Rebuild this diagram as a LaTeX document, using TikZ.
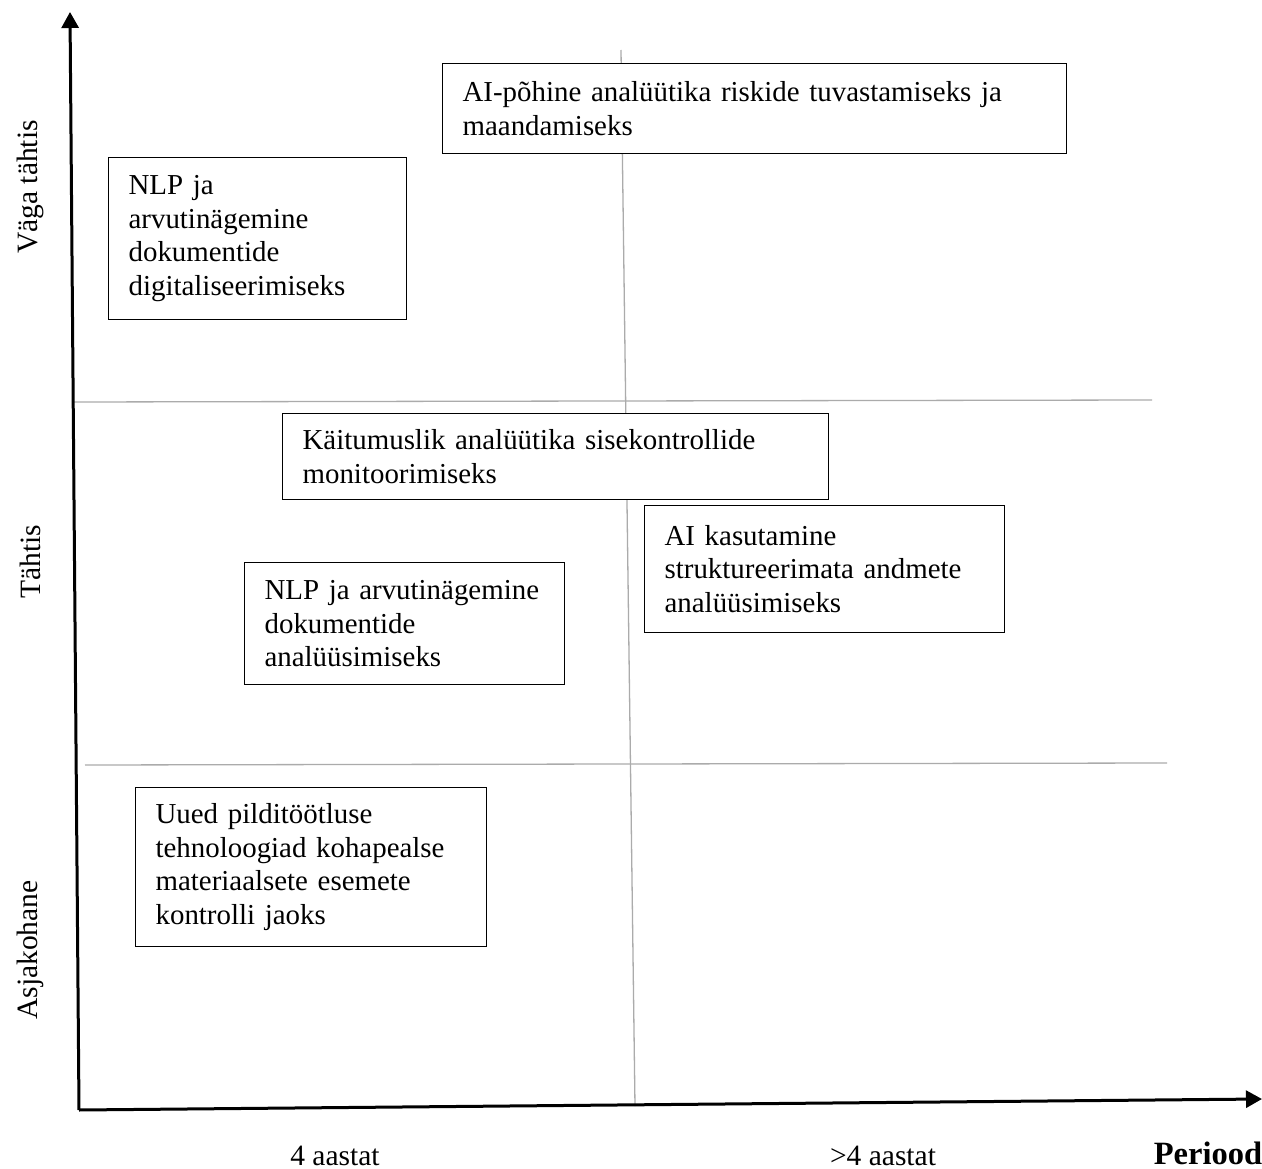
\documentclass[tikz,border=0pt]{standalone}
\usepackage{fontspec}
\setmainfont{Liberation Serif}
\usetikzlibrary{arrows.meta}
\begin{document}
\begin{tikzpicture}[x=1pt,y=-1pt,
  axis/.style={line width=3pt,-{Triangle[length=16pt,width=17pt]}},
  grid/.style={draw=black!33,line width=1.3pt},
  item/.style={draw,fill=white,line width=1.2pt,inner xsep=20pt,inner ysep=0pt,align=left,
    font=\fontsize{28.9}{33.8}\selectfont,anchor=north west},
  axlabel/.style={font=\fontsize{29.5}{34}\selectfont,inner sep=0pt},
]
\useasboundingbox (0,0) rectangle (1262,1169);
% quadrant lines
\coordinate (vt) at (621,50);
\coordinate (vb) at (635,1106);
\coordinate (h1l) at (72,402);
\coordinate (h1r) at (1152,400);
\coordinate (h2l) at (85,765);
\coordinate (h2r) at (1167,763);
\draw[grid] (vt) -- (vb);
\draw[grid] (h1l) -- (h1r);
\draw[grid] (h2l) -- (h2r);
% axes
\coordinate (o) at (79,1110);
\coordinate (ytip) at (70,12);
\coordinate (xtip) at (1262,1099);
\draw[axis] (o) -- (ytip);
\draw[axis] (o) -- (xtip);
% boxes
\node[item,text width=584pt,minimum height=90pt] (b1) at (442,63)
  {AI-põhine analüütika riskide tuvastamiseks ja\\maandamiseks};
\node[item,text width=258pt,minimum height=162pt] (b2) at (108,157)
  {NLP ja\\arvutinägemine\\dokumentide\\digitaliseerimiseks};
\node[item,text width=506pt,minimum height=86pt] (b3) at (282,413)
  {Käitumuslik analüütika sisekontrollide\\monitoorimiseks};
\node[item,text width=320pt,minimum height=127pt] (b4) at (644,505)
  {AI kasutamine\\struktureerimata andmete\\analüüsimiseks};
\node[item,text width=280pt,minimum height=122pt] (b5) at (244,562)
  {NLP ja arvutinägemine\\dokumentide\\analüüsimiseks};
\node[item,text width=311pt,minimum height=159pt] (b6) at (135,787)
  {Uued pilditöötluse\\tehnoloogiad  kohapealse\\materiaalsete esemete\\kontrolli jaoks};
% axis labels
\node[axlabel,rotate=90] (l1) at (30,187) {Väga tähtis};
\node[axlabel,rotate=90] (l2) at (30,562) {Tähtis};
\node[axlabel,rotate=90] (l3) at (30,950) {Asjakohane};
\node[axlabel,anchor=base] (l4) at (335,1165) {4 aastat};
\node[axlabel,anchor=base] (l5) at (883,1165) {>4 aastat};
\node[font=\bfseries\fontsize{32.5}{36}\selectfont,inner sep=0pt,anchor=base] (l6) at (1208,1164) {Periood};
\end{tikzpicture}
\end{document}
